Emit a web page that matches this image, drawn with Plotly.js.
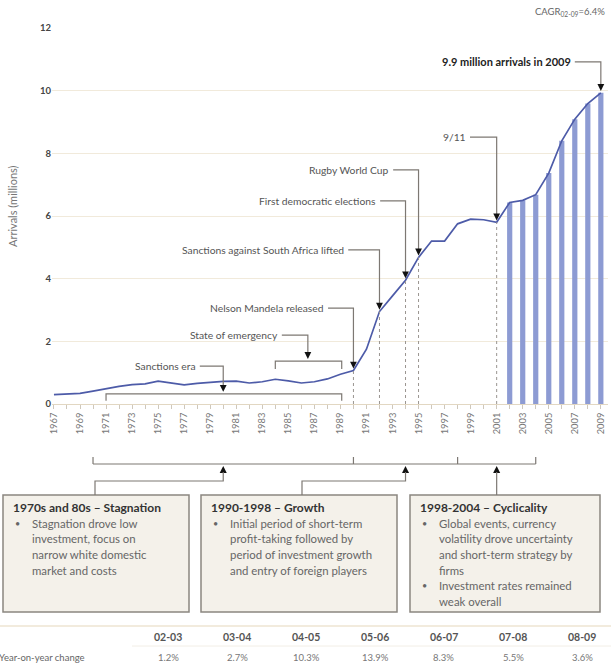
<!DOCTYPE html>
<html>
<head>
<meta charset="utf-8">
<script src="https://cdn.plot.ly/plotly-3.0.1.min.js"></script>
<style>html,body{margin:0;padding:0;background:#fff;}#chart{width:611px;height:665px;}</style>
</head>
<body>
<div id="chart"></div>
<script>
// ---------- data ----------
const years = [1967,1968,1969,1970,1971,1972,1973,1974,1975,1976,1977,1978,1979,1980,1981,1982,1983,1984,1985,1986,1987,1988,1989,1990,1991,1992,1993,1994,1995,1996,1997,1998,1999,2000,2001,2002,2003,2004,2005,2006,2007,2008,2009];
const arrivals = [0.30,0.33,0.34,0.41,0.49,0.56,0.62,0.64,0.73,0.68,0.61,0.66,0.70,0.72,0.73,0.67,0.71,0.79,0.74,0.67,0.71,0.80,0.95,1.07,1.75,2.95,3.45,3.95,4.68,5.20,5.20,5.75,5.90,5.88,5.80,6.43,6.50,6.68,7.37,8.40,9.09,9.59,9.93];
const barYears = [2002,2003,2004,2005,2006,2007,2008,2009];
const tickYears = [1967,1969,1971,1973,1975,1977,1979,1981,1983,1985,1987,1989,1991,1993,1995,1997,1999,2001,2003,2005,2007,2009];
const yTicks = [0,2,4,6,8,10,12];
const eventLabels = ['9.9 million arrivals in 2009','9/11','Rugby World Cup','First democratic elections','Sanctions against South Africa lifted','Nelson Mandela released'];
const eventYears = [2009,2001,1995,1994,1992,1990];
const bracketLabels = ['Sanctions era','State of emergency'];
const periodTitles = ['1970s and 80s \u2013 Stagnation','1990-1998 \u2013 Growth','1998-2004 \u2013 Cyclicality'];
const periodBullets = [
  [['Stagnation drove low','investment, focus on','narrow white domestic','market and costs']],
  [['Initial period of short-term','profit-taking followed by','period of investment growth','and entry of foreign players']],
  [['Global events, currency','volatility drove uncertainty','and short-term strategy by','firms'],['Investment rates remained','weak overall']]
];
const periodYears = ['02-03','03-04','04-05','05-06','06-07','07-08','08-09'];
const yoyChange = ['1.2%','2.7%','10.3%','13.9%','8.3%','5.5%','3.6%'];

// ---------- layout geometry ----------
const L=52, T=28, W=556, H=376;
const X0=1966.85, X1=2009.55;
const pX = px => (px-L)/W;
const pY = py => (T+H-py)/H;
const yrPx = px => X0 + (px-L)/W*(X1-X0);
const valOf = yr => arrivals[years.indexOf(yr)];

const FONT = 'Lato, "Open Sans", sans-serif';
const CON = '#7d7873';
const shapes = [];
const annotations = [];

function tri(xc, ytip, dir, xref, yref, hw, h){
  const yb = ytip - dir*h;
  shapes.push({type:'path', xref:xref, yref:yref,
    path:`M ${xc-hw} ${yb} L ${xc+hw} ${yb} L ${xc} ${ytip} Z`,
    fillcolor:'#111', line:{width:0}});
}

// ---------- event callouts ----------
const evLabelY = [10.92, 8.52, 7.47, 6.48, 4.92, 3.06];
const evStartX = [2007.0, 1998.95, 1993.05, 1992.05, 1989.6, 1988.05];
eventYears.forEach((yr,i)=>{
  const v = valOf(yr);
  const tip = v + 0.06;
  if (yr !== 2009) {
    shapes.push({type:'line', xref:'x', yref:'y', x0:yr, x1:yr, y0:0, y1:v,
      line:{color:'#9a9590', width:1, dash:'dot'}});
  }
  shapes.push({type:'path', xref:'x', yref:'y',
    path:`M ${evStartX[i]} ${evLabelY[i]} L ${yr} ${evLabelY[i]} L ${yr} ${tip+0.2}`,
    line:{color:CON, width:1.2}});
  tri(yr, tip, -1, 'x', 'y', 0.26, 0.22);
  annotations.push({xref:'x', yref:'y', x:evStartX[i], y:evLabelY[i], xanchor:'right', yanchor:'middle',
    xshift:-2, showarrow:false, text: i===0 ? '<b>'+eventLabels[i]+'</b>' : eventLabels[i],
    font:{family:FONT, size: i===0 ? 11 : 10.3, color: i===0 ? '#222' : '#555'}});
});

// ---------- brackets above axis ----------
const brk = [
  {x0:1971, x1:1989.1, y:0.32, end:0.1, arrowX:1980, labelY:1.21, startX:1978.2},
  {x0:1984, x1:1989.1, y:1.37, end:1.12, arrowX:1986.5, labelY:2.2, startX:1984.5}
];
brk.forEach((b,i)=>{
  shapes.push({type:'path', xref:'x', yref:'y',
    path:`M ${b.x0} ${b.end} L ${b.x0} ${b.y} L ${b.x1} ${b.y} L ${b.x1} ${b.end}`,
    line:{color:CON, width:1.2}});
  const tip = b.y + 0.07;
  shapes.push({type:'path', xref:'x', yref:'y',
    path:`M ${b.startX} ${b.labelY} L ${b.arrowX} ${b.labelY} L ${b.arrowX} ${tip+0.2}`,
    line:{color:CON, width:1.2}});
  tri(b.arrowX, tip, -1, 'x', 'y', 0.26, 0.22);
  annotations.push({xref:'x', yref:'y', x:b.startX, y:b.labelY, xanchor:'right', yanchor:'middle',
    xshift:-2, showarrow:false, text:bracketLabels[i], font:{family:FONT, size:10.3, color:'#555'}});
});

// ---------- lower period bracket ----------
const bracketEnds = [1970, 1990, 1998, 2004];
const periodArrows = [1980, 1994, 2001];
shapes.push({type:'line', xref:'x', yref:'paper', x0:1970, x1:2004, y0:pY(464), y1:pY(464), line:{color:CON, width:1.2}});
bracketEnds.forEach(x=>{
  shapes.push({type:'line', xref:'x', yref:'paper', x0:x, x1:x, y0:pY(464), y1:pY(457), line:{color:CON, width:1.2}});
});
const boxLeft = [3, 201, 410];
const boxRight = [189, 397, 600];
const boxConnPx = [95, 302, null];
periodArrows.forEach((x,i)=>{
  tri(x, pY(466), 1, 'x', 'paper', 0.27, pY(466)-pY(473));
  let path;
  if (boxConnPx[i] !== null) {
    const cx = yrPx(boxConnPx[i]);
    path = `M ${x} ${pY(472)} L ${x} ${pY(481)} L ${cx} ${pY(481)} L ${cx} ${pY(495)}`;
  } else {
    path = `M ${x} ${pY(472)} L ${x} ${pY(495)}`;
  }
  shapes.push({type:'path', xref:'x', yref:'paper', path:path, line:{color:CON, width:1.2}});
});

// ---------- boxes ----------
periodTitles.forEach((t,i)=>{
  shapes.push({type:'rect', xref:'paper', yref:'paper', x0:pX(boxLeft[i]), x1:pX(boxRight[i]),
    y0:pY(612), y1:pY(495), fillcolor:'#f4f1ea', line:{color:'#8b8680', width:1.5}, layer:'below'});
  annotations.push({xref:'paper', yref:'paper', x:pX(boxLeft[i]+8), y:pY(507), xanchor:'left', yanchor:'middle',
    showarrow:false, text:'<b>'+t+'</b>', font:{family:FONT, size:12, color:'#333'}});
  let line = 0;
  periodBullets[i].forEach(bul=>{
    annotations.push({xref:'paper', yref:'paper', x:pX(boxLeft[i]+10), y:pY(523+15.7*line), xanchor:'left', yanchor:'middle',
      showarrow:false, text:'\u2022', font:{family:FONT, size:9, color:'#666'}});
    bul.forEach(s=>{
      annotations.push({xref:'paper', yref:'paper', x:pX(boxLeft[i]+27), y:pY(523+15.7*line), xanchor:'left', yanchor:'middle',
        showarrow:false, text:s, font:{family:FONT, size:11.4, color:'#666'}});
      line++;
    });
  });
});

// ---------- table ----------
shapes.push({type:'line', xref:'paper', yref:'paper', x0:pX(0), x1:pX(611), y0:pY(626), y1:pY(626), line:{color:'#e5d8bb', width:1.2}});
shapes.push({type:'line', xref:'paper', yref:'paper', x0:pX(132), x1:pX(611), y0:pY(646), y1:pY(646), line:{color:'#f2eee6', width:1}});
periodYears.forEach((p,i)=>{
  const cx = 168 + 69*i;
  annotations.push({xref:'paper', yref:'paper', x:pX(cx), y:pY(637), xanchor:'center', yanchor:'middle',
    showarrow:false, text:'<b>'+p+'</b>', font:{family:FONT, size:10.5, color:'#555'}});
  annotations.push({xref:'paper', yref:'paper', x:pX(cx), y:pY(657), xanchor:'center', yanchor:'middle',
    showarrow:false, text:yoyChange[i], font:{family:FONT, size:9.5, color:'#777'}});
});
annotations.push({xref:'paper', yref:'paper', x:pX(-3), y:pY(657), xanchor:'left', yanchor:'middle',
  showarrow:false, text:'Year-on-year change', font:{family:FONT, size:9.5, color:'#666'}});

// ---------- titles ----------
annotations.push({xref:'paper', yref:'paper', x:pX(607), y:pY(12), xanchor:'right', yanchor:'middle',
  showarrow:false, text:'CAGR<sub>02-09</sub>=6.4%', font:{family:FONT, size:9.5, color:'#666'}});
annotations.push({xref:'paper', yref:'paper', x:pX(12), y:pY(206), xanchor:'center', yanchor:'middle', textangle:-90,
  showarrow:false, text:'Arrivals (millions)', font:{family:FONT, size:11, color:'#777'}});

// ---------- traces ----------
const barVals = barYears.map(valOf);
const traces = [
  {type:'bar', x:barYears, y:barVals, width:0.4, marker:{color:'#8d9bd3', line:{width:0}}, hoverinfo:'skip'},
  {type:'scatter', mode:'lines', x:years, y:arrivals, line:{color:'#4d5ba8', width:1.7}, hoverinfo:'skip'}
];

const layout = {
  width:611, height:665,
  margin:{l:L, r:611-L-W, t:T, b:665-T-H, pad:0},
  paper_bgcolor:'#fff', plot_bgcolor:'#fff',
  showlegend:false,
  xaxis:{range:[X0,X1], tickvals:tickYears, ticktext:tickYears.map(String), tickangle:-90,
    tickfont:{family:FONT, size:9.3, color:'#777'}, ticks:'outside', ticklen:4, tickcolor:'#cfc8bc',
    minor:{dtick:1, tick0:1967, ticks:'outside', ticklen:4, tickcolor:'#cfc8bc', showgrid:false},
    showgrid:false, zeroline:false, showline:true, linecolor:'#e2d7c2', linewidth:1, fixedrange:true},
  yaxis:{range:[0,12], tickvals:yTicks, ticktext:yTicks.map(v=>'<b>'+v+'</b>'), showgrid:true, gridcolor:'#f1eadb', gridwidth:1,
    zeroline:false, showline:false, ticks:'', tickfont:{family:FONT, size:9.5, color:'#444'}, fixedrange:true},
  shapes:shapes,
  annotations:annotations
};

Plotly.newPlot('chart', traces, layout, {displayModeBar:false, staticPlot:true});
</script>
</body>
</html>
